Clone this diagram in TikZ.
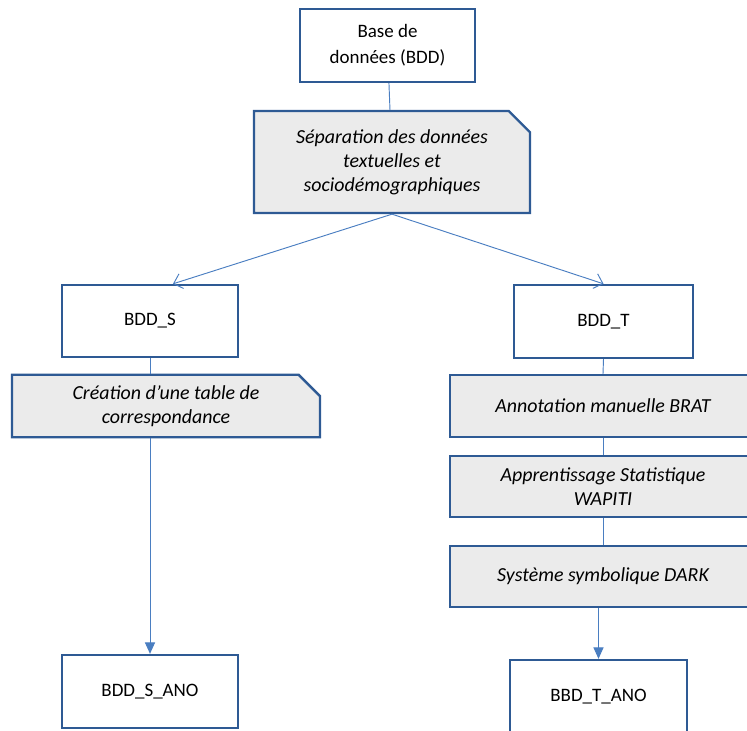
\documentclass[tikz,border=0pt]{standalone}
\usepackage{fontspec}
\setmainfont{Carlito}
\usetikzlibrary{shapes.misc,arrows.meta,calc}
\definecolor{boxblue}{HTML}{2E5A94}
\definecolor{lineblue}{HTML}{4A7EC1}
\definecolor{taskgray}{HTML}{EBEBEB}
\tikzset{
  box/.style={draw=boxblue,line width=2pt,fill=white,rectangle,align=center,inner sep=0pt,
    font=\fontsize{16.2}{22}\selectfont},
  task/.style={draw=boxblue,line width=2pt,fill=taskgray,chamfered rectangle,
    chamfered rectangle corners=north east,chamfered rectangle xsep=0.32cm,
    chamfered rectangle ysep=0.32cm,align=center,inner sep=0pt,
    font=\fontsize{17}{20.5}\selectfont\itshape},
  taskr/.style={task,rectangle},
  link/.style={draw=lineblue,line width=0.8pt},
  splitarrow/.style={link,-{Straight Barb[length=2.4mm,width=4.6mm]}},
  downarrow/.style={link,-{Triangle[length=3.4mm,width=3mm]}}
}
\begin{document}
\begin{tikzpicture}[x=0.03cm,y=-0.03cm]
			\useasboundingbox (0,0) rectangle (747,731);
			\clip (0,0) rectangle (747,731);
			\node[box,minimum width=175*0.03cm,minimum height=73*0.03cm] (bdd) at (387.5,45.5) {Base de\\données (BDD)};
			\node[task,minimum width=276*0.03cm,minimum height=102*0.03cm] (sep) at (392,162) {Séparation des données\\textuelles et\\sociodémographiques};
			\node[box,minimum width=176*0.03cm,minimum height=72*0.03cm] (bdds) at (150,321) {BDD\_S};
			\node[task,minimum width=308*0.03cm,minimum height=62*0.03cm] (creat) at (166,406) {Création d’une table de\\correspondance};
			\node[box,minimum width=176*0.03cm,minimum height=73*0.03cm] (bddsano) at (150,691.5) {BDD\_S\_ANO};
			\node[box,minimum width=179*0.03cm,minimum height=73*0.03cm] (bddt) at (603.5,321.5) {BDD\_T};
			\node[taskr,minimum width=306*0.03cm,minimum height=62*0.03cm] (annot) at (603,406) {Annotation manuelle BRAT};
			\node[taskr,minimum width=306*0.03cm,minimum height=61*0.03cm] (appr) at (603,486.5) {Apprentissage Statistique\\WAPITI};
			\node[taskr,minimum width=306*0.03cm,minimum height=61*0.03cm] (sys) at (603,576.5) {Système symbolique DARK};
			\node[box,minimum width=177*0.03cm,minimum height=73*0.03cm] (bddtano) at (598.5,696.5) {BBD\_T\_ANO};
			\draw[link] (bdd) -- (sep);
			\draw[splitarrow] (sep.south) -- ($(bdds.north)+(23,0)$);
			\draw[splitarrow] (sep.south) -- (bddt.north);
			\draw[link] (bdds.south) -- (bdds.south |- creat.north);
			\draw[downarrow] (creat.south -| bddsano.north) -- (bddsano.north);
			\draw[link] (bddt.south) -- (annot.north);
			\draw[link] (annot.south) -- (appr.north);
			\draw[link] (appr.south) -- (sys.north);
			\draw[downarrow] (sys.south -| bddtano.north) -- (bddtano.north);
			\end{tikzpicture}
\end{document}
